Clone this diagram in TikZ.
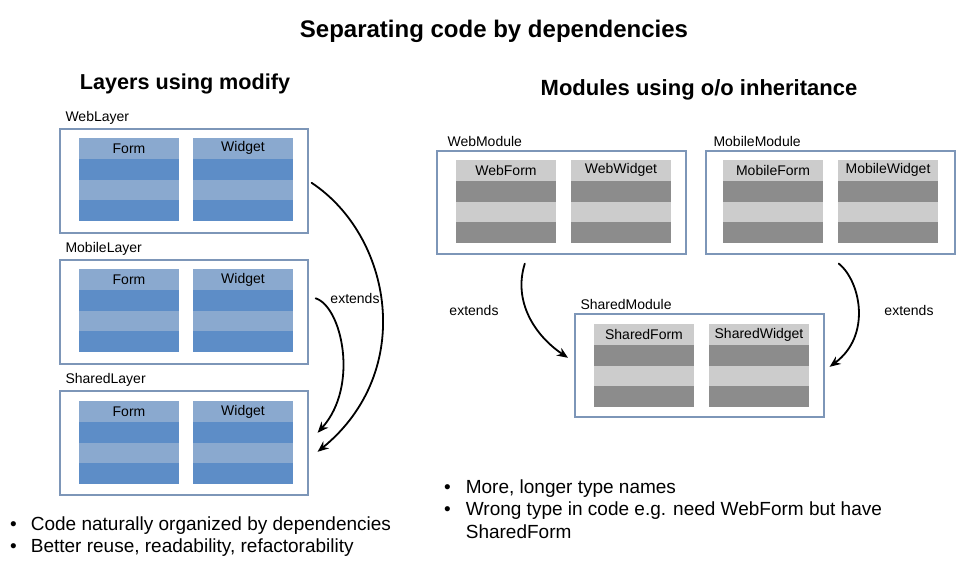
\documentclass[tikz,border=0pt]{standalone}
\usepackage{fontspec}
\setmainfont{Liberation Sans}
\usepackage{tikz}
\usetikzlibrary{positioning, arrows.meta}

\definecolor{framec}{HTML}{7D96B8}
\definecolor{bluelt}{HTML}{8AA9CF}
\definecolor{bluedk}{HTML}{5D8DC7}
\definecolor{graylt}{HTML}{CCCCCC}
\definecolor{graydk}{HTML}{8C8C8C}

% one class: title row and three bands below it
\newcommand{\classbox}[5]{%
  \node[row, fill=#4, anchor=north west] (#1) at (#2) {#3};
  \node[row, fill=#5, below=of #1] (#1a) {};
  \node[row, fill=#4, below=of #1a] (#1b) {};
  \node[row, fill=#5, below=of #1b] (#1c) {};
}

\begin{document}
\begin{tikzpicture}[
x=1pt, y=-1pt,
node distance=0mm,
frame/.style={draw=framec, line width=1.6pt, minimum width=248pt, minimum height=104pt, anchor=north west},
row/.style={inner sep=0pt, outer sep=0pt, minimum width=100pt, minimum height=20.75pt, font=\fontsize{14}{16}\selectfont},
lbl/.style={font=\fontsize{14}{16}\selectfont},
ext/.style={->, line width=1.8pt, line cap=round},
>={Stealth[length=11pt, width=9pt]}
]
\useasboundingbox (0,0) rectangle (965,568);

% titles
\node[font=\bfseries\fontsize{24}{28}\selectfont] (title) at (494,31) {Separating code by dependencies};
\node[font=\bfseries\fontsize{21.6}{25}\selectfont] (lt) at (185,84) {Layers using modify};
\node[font=\bfseries\fontsize{22}{26}\selectfont] (rt) at (699,90) {Modules using o/o inheritance};

% layers
\node[frame] (wl) at (59,128) {};
\node[frame] (ml) at (59,259) {};
\node[frame] (sl) at (59,390) {};
\node[lbl, above right=0pt and 3pt of wl.north west] {WebLayer};
\node[lbl, above right=0pt and 3pt of ml.north west] {MobileLayer};
\node[lbl, above right=0pt and 3pt of sl.north west] {SharedLayer};

\classbox{wf}{79,138}{Form}{bluelt}{bluedk}
\classbox{ww}{193,138}{Widget}{bluelt}{bluedk}
\classbox{mf}{79,269}{Form}{bluelt}{bluedk}
\classbox{mw}{193,269}{Widget}{bluelt}{bluedk}
\classbox{sf}{79,401}{Form}{bluelt}{bluedk}
\classbox{sw}{193,401}{Widget}{bluelt}{bluedk}

% modules
\node[frame, minimum width=249pt, minimum height=103pt] (wm) at (436,150) {};
\node[frame, minimum width=249pt, minimum height=103pt] (mm) at (705,150) {};
\node[frame, minimum width=249pt, minimum height=103pt] (sm) at (574,313) {};
\node[lbl, above right=0pt and 8pt of wm.north west] {WebModule};
\node[lbl, above right=0pt and 5pt of mm.north west] {MobileModule};
\node[lbl, above right=0pt and 3pt of sm.north west] {SharedModule};

\classbox{wmf}{456,160}{WebForm}{graylt}{graydk}
\classbox{wmw}{571,160}{WebWidget}{graylt}{graydk}
\classbox{mmf}{723,160}{MobileForm}{graylt}{graydk}
\classbox{mmw}{838,160}{MobileWidget}{graylt}{graydk}
\classbox{smf}{594,324}{SharedForm}{graylt}{graydk}
\classbox{smw}{709,324}{SharedWidget}{graylt}{graydk}

% arrows
\draw[ext] ([shift={(3,2)}]wl.east) .. controls +(80,53) and +(99,-81) .. ([shift={(9,9)}]sl.east);
\draw[ext] ([shift={(7,-13.5)}]ml.east) .. controls +(26,8) and +(42,-47) .. ([shift={(9,-10)}]sl.east);
\draw[ext] ([shift={(-36.5,9)}]wm.south) .. controls +(-12,38) and +(-33,-22) .. ([shift={(-6,-7.5)}]sm.west);
\draw[ext] ([shift={(8.5,9)}]mm.south) .. controls +(22,18) and +(42,-31) .. ([shift={(5,1.5)}]sm.east);

\node[lbl] (e1) at (355,298) {extends};
\node[lbl] (e2) at (474,310) {extends};
\node[lbl] (e3) at (909,310) {extends};

% notes
\node[inner sep=0pt, anchor=base west, font=\fontsize{19}{22.7}\selectfont] (ln) at (10,530)
  {\begin{tabular}[t]{@{}l@{\hspace{14pt}}l@{}}
   \textbullet & Code naturally organized by dependencies\\
   \textbullet & Better reuse, readability, refactorability
   \end{tabular}};
\node[inner sep=0pt, anchor=base west, font=\fontsize{19}{22.7}\selectfont] (rn) at (444,493)
  {\begin{tabular}[t]{@{}l@{\hspace{15pt}}l@{}}
   \textbullet & More, longer type names\\
   \textbullet & Wrong type in code e.g. need WebForm but have\\
   & SharedForm
   \end{tabular}};

\end{tikzpicture}
\end{document}
